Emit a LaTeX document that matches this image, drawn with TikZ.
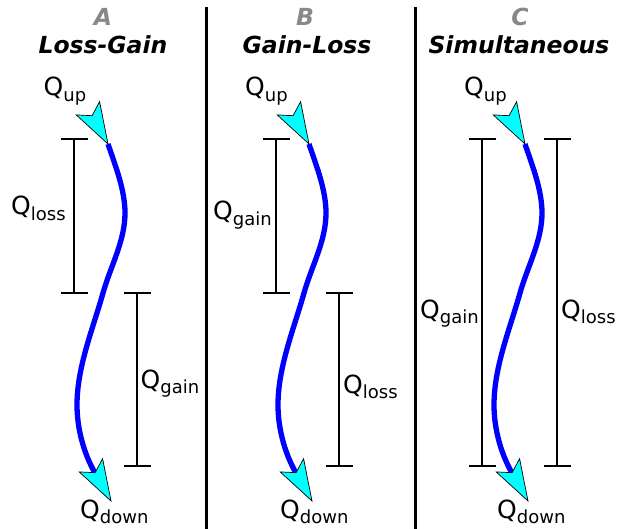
\documentclass[tikz,border=0pt]{standalone}
\usepackage{fontspec}
\setmainfont{DejaVu Sans}
\definecolor{hdrgray}{RGB}{136,136,136}
\definecolor{headcyan}{RGB}{0,255,255}
\definecolor{curveblue}{RGB}{0,0,255}
\newcommand\Qs[1]{Q\raisebox{-5.5pt}{\fontsize{18}{18}\selectfont #1}}
\newcommand\vbracket[3]{\draw[brk] (#1-13.5,#2) -- (#1+13.5,#2) (#1,#2) -- (#1,#3) (#1-13.5,#3) -- (#1+13.5,#3);}
\tikzset{
  hdr/.style={font=\fontsize{23.5}{25}\selectfont\bfseries\itshape, anchor=base, inner sep=0pt},
  qlab/.style={font=\fontsize{25}{28}\selectfont, anchor=base west, inner sep=0pt},
  curve/.style={draw=curveblue, line width=5.3pt},
  brk/.style={line width=1.4pt},
  divider/.style={line width=3pt},
  headfill/.style={fill=headcyan, draw=black, line width=0.7pt, line join=miter},
  ahead/.pic={\filldraw[headfill] (0,0) -- (-8.4,-42.3) -- (-15.9,-28.3) -- (-31.8,-29.1) -- cycle;}
}
\begin{document}
\begin{tikzpicture}[x=1pt,y=-1pt]
\useasboundingbox (0,0) rectangle (618,529);
% dividers
\draw[divider] (206,7) -- (206,529);
\draw[divider] (415,7) -- (415,529);
% headers
\node[hdr, text=hdrgray] (hA) at (103,26) {A};
\node[hdr] (tA) at (103,54) {Loss-Gain};
\node[hdr, text=hdrgray] (hB) at (305,26) {B};
\node[hdr] (tB) at (307,54) {Gain-Loss};
\node[hdr, text=hdrgray] (hC) at (520,26) {C};
\node[hdr] (tC) at (519,54) {Simultaneous};
% Q up / Q down labels
\node[qlab] (qupA) at (43.5,96) {\Qs{up}};
\node[qlab] (qupB) at (245,96) {\Qs{up}};
\node[qlab] (qupC) at (464,96) {\Qs{up}};
\node[qlab] (qdnA) at (80,518) {\Qs{down}};
\node[qlab] (qdnB) at (280,518) {\Qs{down}};
\node[qlab] (qdnC) at (497,518) {\Qs{down}};
% brackets
\vbracket{74}{139}{293}
\vbracket{137}{293}{466}
\vbracket{276}{139}{293}
\vbracket{339}{293}{466}
\vbracket{482}{139}{466}
\vbracket{557}{139}{466}
% bracket labels
\node[qlab] (lossA) at (11,215) {\Qs{loss}};
\node[qlab] (gainA) at (140.5,388) {\Qs{gain}};
\node[qlab] (gainB) at (213,220) {\Qs{gain}};
\node[qlab] (lossB) at (343,393) {\Qs{loss}};
\node[qlab] (gainC) at (420,318) {\Qs{gain}};
\node[qlab] (lossC) at (561,318) {\Qs{loss}};
% curves with arrowheads
\foreach \s/\n in {0/A,201/B,417/C}{
  \begin{scope}[xshift=\s pt]
    \coordinate (s\n) at (108,144);
    \coordinate (m1\n) at (125,213);
    \coordinate (m2\n) at (103,293);
    \coordinate (m3\n) at (77,405);
    \coordinate (e\n) at (95,473);
    \coordinate (t\n) at (111,501);
    \draw[curve] (s\n) .. controls +(7.4,21.9) and +(0,-23) .. (m1\n)
                 .. controls +(0,28) and +(7.6,-26.9) .. (m2\n)
                 .. controls +(-10.3,36.5) and +(0,-38) .. (m3\n)
                 .. controls +(0,23) and +(-11.5,-20) .. (e\n);
    \pic at (s\n) {ahead};
    \pic at (t\n) {ahead};
  \end{scope}
}
\end{tikzpicture}
\end{document}
